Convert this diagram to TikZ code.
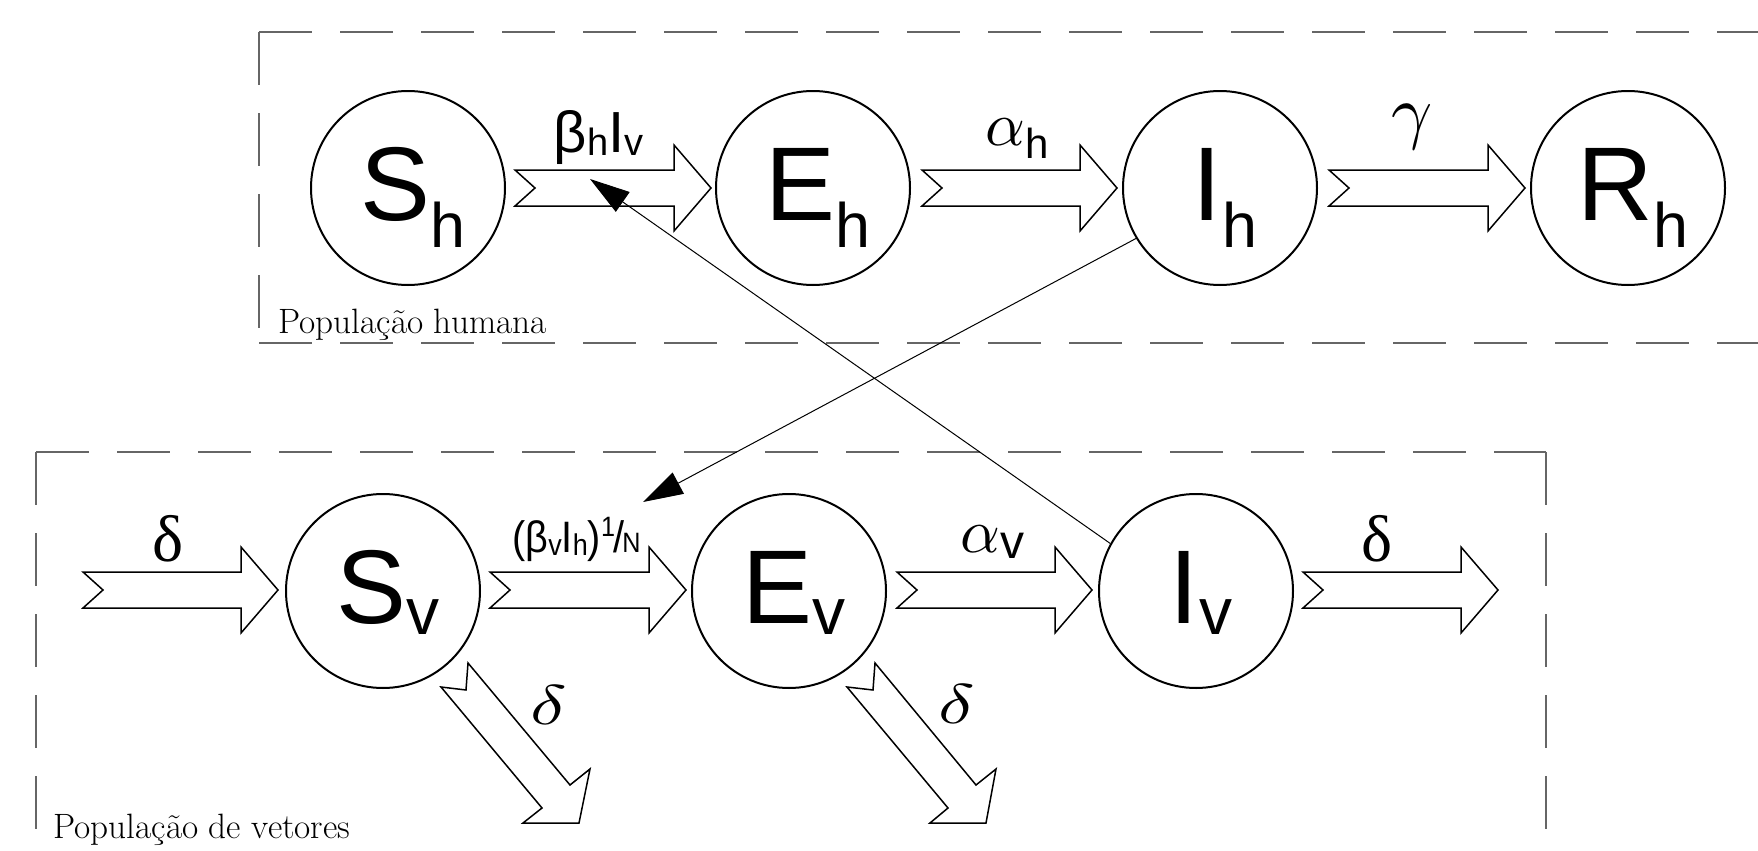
\documentclass[tikz,border=0pt]{standalone}
\usepackage{fontspec}
\setsansfont{Liberation Sans}
\newfontfamily\grk{Liberation Serif}
\usetikzlibrary{arrows.meta}
\tikzset{
  circ/.style={circle,draw,line width=1pt,minimum size=97pt,inner sep=0pt},
  blk/.style={draw,line width=0.75pt,line join=miter,fill=white},
  grpbox/.style={draw=black!60,line width=0.65pt,dash pattern=on 26.5pt off 14pt},
  link/.style={line width=0.5pt,-{Triangle[length=20pt,width=12pt]}},
  ctext/.style={anchor=base,inner sep=0pt,font=\sffamily\fontsize{52.4}{52.4}\selectfont},
  lbl/.style={inner sep=0pt},
  grouplbl/.style={anchor=base west,inner sep=0pt,font=\fontsize{17.6}{17.6}\selectfont}
}
\newcommand\csub[1]{\raisebox{-13.5pt}{\fontsize{31.4}{31.4}\selectfont #1}}
\newcommand\cvsub[1]{\raisebox{-5.5pt}{\fontsize{33}{33}\selectfont #1}}
\newcommand\lsub[1]{\raisebox{-1.5pt}{\fontsize{19}{19}\selectfont #1}}
\newcommand\msub[1]{\raisebox{-1.5pt}{\fontsize{15}{15}\selectfont #1}}
\newcommand\harrow[3]{\draw[blk] (#1,#3-18) -- (#2-37,#3-18) -- (#2-37,#3-43) -- (#2,#3) -- (#2-37,#3+43) -- (#2-37,#3+18) -- (#1,#3+18) -- (#1+20,#3) -- cycle;}
\begin{document}
\begin{tikzpicture}[x=0.5pt,y=-0.5pt]
\useasboundingbox (0,0) rectangle (1758,851);
% group boxes
\draw[grpbox] (259,32) -- (1790,32);
\draw[grpbox] (259,32) -- (259,343);
\draw[grpbox] (259,343) -- (1790,343);
\draw[grpbox] (36,452) -- (1546,452);
\draw[grpbox] (36,452) -- (36,880);
\draw[grpbox] (1546,452) -- (1546,880);
\node[grouplbl] (gh) at (278,333) {População humana};
\node[grouplbl] (gv) at (53,838) {População de vetores};
% compartments
\node[circ] (Sh) at (408,188) {};
\node[circ] (Eh) at (813,188) {};
\node[circ] (Ih) at (1220,188) {};
\node[circ] (Rh) at (1628,188) {};
\node[circ] (Sv) at (383,591) {};
\node[circ] (Ev) at (789,591) {};
\node[circ] (Iv) at (1196,591) {};
\node[ctext] (tSh) at (413,220) {S\csub{h}};
\node[ctext] (tEh) at (818,220) {E\csub{h}};
\node[ctext] (tIh) at (1225,220) {I\csub{h}};
\node[ctext] (tRh) at (1633,220) {R\csub{h}};
\node[ctext] (tSv) at (388,623) {S\cvsub{v}};
\node[ctext] (tEv) at (794,623) {E\cvsub{v}};
\node[ctext] (tIv) at (1201,623) {I\cvsub{v}};
% block arrows
\harrow{515}{711}{188}
\harrow{922}{1117}{188}
\harrow{1329}{1525}{188}
\harrow{83}{278}{590}
\harrow{490}{686}{590}
\harrow{897}{1092}{590}
\harrow{1303}{1498}{590}
\draw[blk] (441,687) -- (466,690) -- (468,663) -- (570,785) -- (590,769) -- (579,823) -- (523,823) -- (542,808) -- cycle;
\draw[blk] (847,687) -- (873,690) -- (875,663) -- (976,785) -- (996,769) -- (986,823) -- (930,823) -- (948,808) -- cycle;
% rate labels
\node[lbl,anchor=base] (l1) at (598.5,152) {\sffamily\fontsize{29}{29}\selectfont β\lsub{h}I\lsub{v}};
\node[lbl,anchor=base] (l2) at (576.5,552) {\scalebox{0.9}[1]{\sffamily\fontsize{22}{22}\selectfont (β\msub{v}I\msub{h})\raisebox{8pt}{\fontsize{14}{14}\selectfont 1}\kern-1pt/\kern-1pt{\fontsize{14}{14}\selectfont N}}};
\node[lbl,anchor=base west] (l3) at (985,145) {\scalebox{3.1}{$\alpha$}\raisebox{-6.5pt}{\sffamily\fontsize{21}{21}\selectfont h}};
\node[lbl,anchor=base west] (l4) at (960,552) {\scalebox{3.1}{$\alpha$}\raisebox{-3pt}{\sffamily\fontsize{24}{24}\selectfont v}};
\node[lbl,anchor=base] (l5) at (1412.5,135) {\scalebox{3.6}{$\gamma$}};
\node[lbl,anchor=base] (l6) at (168,561) {\grk\fontsize{33}{33}\selectfont δ};
\node[lbl,anchor=base] (l7) at (1377,561) {\grk\fontsize{33}{33}\selectfont δ};
\node[lbl] (l8) at (549,705) {\scalebox{3.8}[2.8]{$\delta$}};
\node[lbl] (l9) at (956.5,704) {\scalebox{3.8}[2.8]{$\delta$}};
% infection links
\coordinate (t1) at (590,179);
\coordinate (t2) at (643,502);
\draw[link] (Iv.151) -- (t1);
\draw[link] (Ih.211) -- (t2);
\end{tikzpicture}
\end{document}
